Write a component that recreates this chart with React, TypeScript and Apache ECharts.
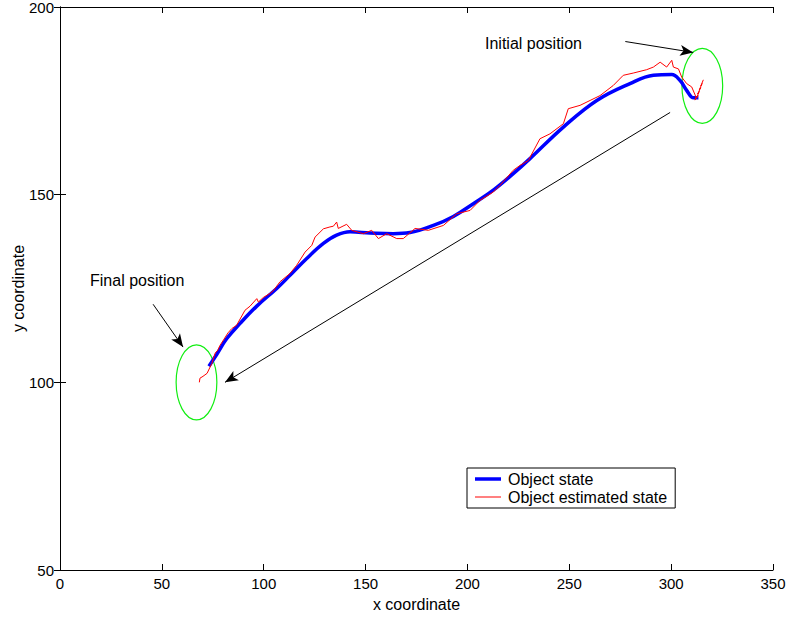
import React, { useEffect, useRef } from "react";
import * as echarts from "echarts";

const xTicks = { min: 0, max: 350, interval: 50 };
const yTicks = { min: 50, max: 200, interval: 50 };

const objectState: number[][] = [
  [73.1, 104.3], [77, 107.5], [81.8, 111.6], [88.4, 115.7], [96.6, 120.3], [106.4, 125.0],
  [112.9, 128.5], [121.1, 133.0], [129.3, 137.0], [135.8, 139.2], [142.4, 140.1], [152.2, 139.8],
  [163.6, 139.6], [171.8, 139.9], [183.3, 141.8], [193.1, 144.2], [202.9, 147.6], [212.7, 151.2],
  [222.5, 155.6], [230.7, 159.6], [247.1, 168.0], [263.5, 175.1], [279.8, 179.6], [291.3, 181.8],
  [300.3, 182.0], [304.4, 180.4], [307.6, 177.8], [311.0, 175.8], [313.4, 175.8],
];

const estimatedState: number[][] = [
  [68.4, 100.0], [68.7, 101.1], [70.2, 101.6], [72.2, 102.4], [74.5, 105.0], [76.2, 107.8],
  [77.5, 108.6], [78.5, 109.8], [80.5, 111.5], [82.5, 113.2], [84.3, 114.3], [86.7, 115.2],
  [90.8, 119.2], [93.3, 120.3], [96.6, 122.3], [97.4, 121.4], [99.8, 122.6], [103.1, 123.7],
  [104.7, 124.4], [108.0, 126.8], [112.9, 129.0], [116.2, 131.2], [120.3, 134.7], [123.6, 136.5],
  [125.2, 138.7], [129.3, 140.9], [132.5, 141.4], [134.2, 141.6], [135.8, 142.7], [136.6, 141.0],
  [140.7, 142.1], [143.2, 140.5], [148.9, 139.6], [153.0, 140.5], [156.3, 138.3], [160.4, 139.6],
  [165.3, 138.3], [168.5, 138.3], [174.3, 141.0], [180.8, 140.5], [188.2, 141.8], [194.7, 144.9],
  [201.3, 145.8], [206.2, 148.5], [212.7, 150.7], [216, 152.5], [222.5, 156.5], [225.8, 157.8],
  [229.9, 159.1], [235.6, 164.9], [240.5, 166.2], [247.1, 168.9], [249.5, 172.9], [255.3, 173.8],
  [260.2, 175.1], [265.1, 176.4], [271.6, 179.1], [276.5, 181.8], [281.4, 182.4], [288.0, 183.3],
  [291.3, 184.0], [294.6, 185.3], [297.8, 184.0], [300.3, 185.8], [301.1, 184.0], [303.6, 183.5],
  [305.2, 181.3], [307.6, 179.6], [310.1, 178.7], [312.2, 176.0], [311.7, 175.2], [313.2, 176.5],
  [312.5, 175.8], [313.8, 177.5], [313.0, 176.8], [314.5, 178.5], [313.8, 177.9], [315.2, 179.6],
  [314.6, 179.0], [315.8, 180.6],
];

// [centerX, centerY, radius] in data units
const positionCircles: number[][] = [
  [67, 100, 10],
  [315.3, 179, 10],
];

// arrows: [fromX, fromY, toX, toY]
const arrows: number[][] = [
  [277.5, 190.8, 310.8, 187.9],
  [45.7, 120.8, 60.4, 109.4],
  [299.5, 171.9, 81.0, 100.0],
];

const FONT = "'Liberation Sans', Arial, Helvetica, sans-serif";

export default function App() {
  const ref = useRef<HTMLDivElement>(null);
  useEffect(() => {
    if (!ref.current) return;
    const chart = echarts.init(ref.current, undefined, { renderer: "svg" });
    const axisCommon = {
      type: "value" as const,
      splitLine: { show: false },
      axisLine: { show: true, lineStyle: { color: "#000", width: 1 } },
      axisTick: { show: true, inside: true, length: 6, lineStyle: { color: "#000" } },
    };
    chart.setOption({
      animation: false,
      backgroundColor: "#fff",
      textStyle: { fontFamily: FONT },
      grid: {
        left: 60,
        right: 15,
        top: 7,
        bottom: 48,
        containLabel: false,
        outerBoundsMode: "none",
      },
      xAxis: [
        {
          ...axisCommon,
          ...xTicks,
          position: "bottom",
          name: "x coordinate",
          nameLocation: "middle",
          nameGap: 26,
          nameMoveOverlap: false,
          nameTextStyle: { fontSize: 16, color: "#000", fontFamily: FONT },
          axisLabel: { fontSize: 15, color: "#000", margin: 6, fontFamily: FONT },
        },
        {
          ...axisCommon,
          ...xTicks,
          position: "top",
          axisLabel: { show: false },
        },
      ],
      yAxis: [
        {
          ...axisCommon,
          ...yTicks,
          position: "left",
          name: "y coordinate",
          nameLocation: "middle",
          nameGap: 34,
          nameMoveOverlap: false,
          nameTextStyle: { fontSize: 16, color: "#000", fontFamily: FONT },
          axisLabel: { fontSize: 15, color: "#000", margin: 6, fontFamily: FONT },
        },
        {
          ...axisCommon,
          ...yTicks,
          position: "right",
          axisLabel: { show: false },
        },
      ],
      legend: {
        data: [
          { name: "Object state", icon: "path://M0 0H26V3.5H0Z" },
          { name: "Object estimated state", icon: "path://M0 0H26V1H0Z" },
        ],
        orient: "vertical",
        left: 467,
        top: 468,
        backgroundColor: "#fff",
        borderColor: "#000",
        borderWidth: 1,
        borderRadius: 0,
        padding: [3, 8, 3, 8],
        itemGap: 2,
        itemWidth: 26,
        itemHeight: 15,
        textStyle: { fontSize: 16, color: "#000", fontFamily: FONT, padding: [0, 0, 0, 2] },
        selectedMode: false,
      },
      graphic: [
        {
          type: "text",
          left: 485,
          top: 35,
          style: { text: "Initial position", fontSize: 16, fill: "#000", fontFamily: FONT },
        },
        {
          type: "text",
          left: 90,
          top: 272,
          style: { text: "Final position", fontSize: 16, fill: "#000", fontFamily: FONT },
        },
      ],
      series: [
        {
          name: "Object state",
          type: "line",
          data: objectState,
          showSymbol: false,
          symbol: "none",
          smooth: 0.4,
          lineStyle: { color: "#0000ff", width: 3.5 },
          itemStyle: { color: "#0000ff" },
          z: 3,
          silent: true,
        },
        {
          name: "Object estimated state",
          type: "line",
          data: estimatedState,
          showSymbol: false,
          symbol: "none",
          lineStyle: { color: "#ff0000", width: 1 },
          itemStyle: { color: "#ff0000" },
          z: 4,
          silent: true,
        },
        {
          name: "circles",
          type: "custom",
          data: positionCircles,
          silent: true,
          z: 2,
          renderItem: (_params: any, api: any) => {
            const c = api.coord([api.value(0), api.value(1)]);
            const s = api.size([api.value(2), api.value(2)]);
            return {
              type: "ellipse",
              shape: { cx: c[0], cy: c[1], rx: s[0], ry: s[1] },
              style: { fill: "none", stroke: "#11ee11", lineWidth: 1.2 },
            };
          },
        },
        {
          name: "arrows",
          type: "line",
          data: [],
          silent: true,
          markLine: {
            silent: true,
            symbol: ["none", "arrow"],
            symbolSize: [8, 13],
            label: { show: false },
            lineStyle: { color: "#000", width: 1, type: "solid" },
            emphasis: { disabled: true },
            data: arrows.map((a) => [{ coord: [a[0], a[1]] }, { coord: [a[2], a[3]] }]),
          },
        },
      ],
    });
    return () => chart.dispose();
  }, []);
  return (
    <div
      ref={ref}
      style={{ position: "fixed", left: 0, top: 0, width: 788, height: 618 }}
    />
  );
}
